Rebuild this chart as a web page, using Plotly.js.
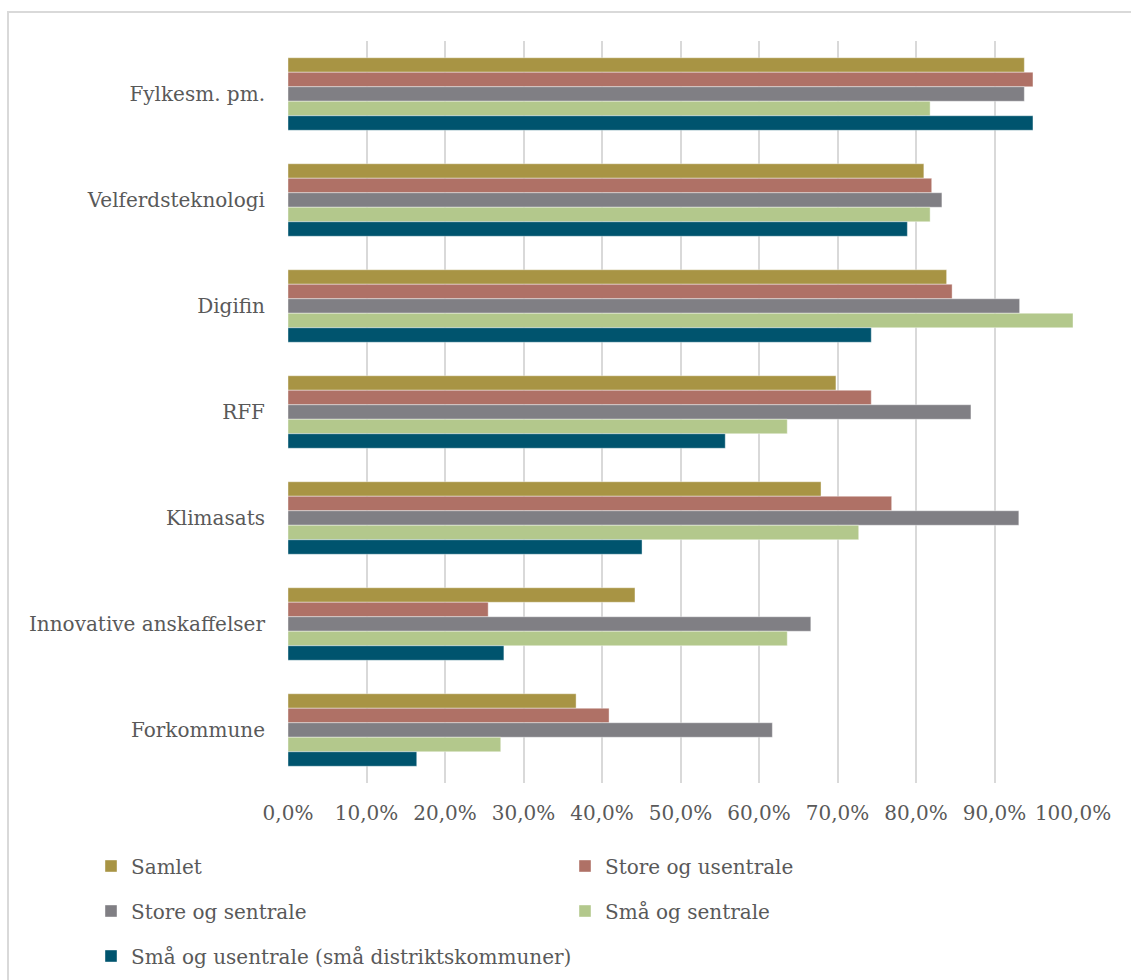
<!DOCTYPE html>
<html>
<head>
<meta charset="utf-8">
<script src="https://cdn.plot.ly/plotly-3.0.1.min.js"></script>
<style>
  html, body { margin: 0; padding: 0; background: #fff; }
  #frame { position: absolute; left: 7px; top: 11px; width: 1140px; height: 1000px; border: 2px solid #D9D9D9; box-sizing: border-box; }
  #chart { position: absolute; left: 0; top: 0; width: 1131px; height: 980px; }
</style>
</head>
<body>
<div id="frame"></div>
<div id="chart"></div>
<script>
const categories = ["Fylkesm. pm.", "Velferdsteknologi", "Digifin", "RFF", "Klimasats", "Innovative anskaffelser", "Forkommune"];
const seriesNames = ["Samlet", "Store og usentrale", "Store og sentrale", "Små og sentrale", "Små og usentrale (små distriktskommuner)"];
const samlet          = [93.8, 81.0, 83.9, 69.8, 67.9, 44.2, 36.7];
const storeUsentrale  = [94.9, 82.0, 84.6, 74.3, 76.9, 25.5, 40.9];
const storeSentrale   = [93.8, 83.3, 93.2, 87.0, 93.1, 66.6, 61.7];
const smaaSentrale    = [81.8, 81.8, 100.0, 63.6, 72.7, 63.6, 27.1];
const smaaUsentrale   = [94.9, 78.9, 74.3, 55.7, 45.1, 27.5, 16.4];
const colors = ["#A89444", "#AF7166", "#807F84", "#B3C88C", "#00546E"];
const values = [samlet, storeUsentrale, storeSentrale, smaaSentrale, smaaUsentrale];

const font = "'DejaVu Serif', serif";

const legendIds = ["legend", "legend2", "legend3", "legend4", "legend5"];
const legendPos = [[91, 866], [565, 866], [91, 911], [565, 911], [91, 956]];

const traces = values.map((v, i) => ({
  type: "bar",
  orientation: "h",
  name: seriesNames[i],
  y: categories,
  x: v,
  marker: { color: colors[i], line: { color: "rgba(255,255,255,0.5)", width: 0.8 } },
  legend: legendIds[i],
  hoverinfo: "x+y+name"
}));

const layout = {
  width: 1131, height: 980,
  margin: { l: 288, r: 58, t: 41, b: 197 },
  paper_bgcolor: "rgba(0,0,0,0)",
  plot_bgcolor: "rgba(0,0,0,0)",
  barmode: "group",
  bargap: 0.316,
  bargroupgap: 0,
  font: { family: font, size: 20, color: "#595959" },
  xaxis: {
    range: [0, 100], dtick: 10, tick0: 0,
    tickformat: ".1f", ticksuffix: "%",
    showgrid: true, gridcolor: "#D9D9D9", gridwidth: 1.5,
    zeroline: false, showline: false,
    ticks: "", ticklabelstandoff: 16,
    tickfont: { family: font, size: 20, color: "#595959" },
    fixedrange: true
  },
  yaxis: {
    type: "category",
    autorange: "reversed",
    showgrid: false, zeroline: false, showline: false,
    ticks: "", ticklabelstandoff: 22,
    tickfont: { family: font, size: 20, color: "#595959" },
    fixedrange: true
  },
  separators: ", ",
  showlegend: true
};

legendIds.forEach((id, i) => {
  layout[id] = {
    orientation: "h",
    xref: "container", yref: "container",
    xanchor: "left", yanchor: "middle",
    x: legendPos[i][0] / 1131,
    y: (980 - legendPos[i][1]) / 980,
    font: { family: font, size: 20, color: "#595959" },
    itemwidth: 30,
    bgcolor: "rgba(0,0,0,0)"
  };
});

Plotly.newPlot("chart", traces, layout, { displayModeBar: false });
</script>
</body>
</html>
